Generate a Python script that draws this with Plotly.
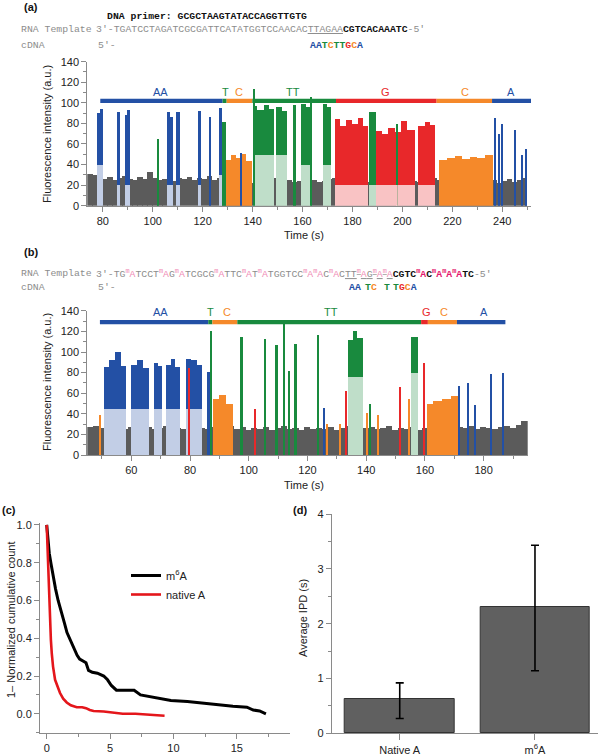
import plotly.graph_objects as go

W, H = 600, 756

# ---------------- colours ----------------
COL = {"A": "#2350a5", "T": "#198a3e", "C": "#f5892a", "G": "#e8282a"}
SEMI = {"A": "rgba(35,80,165,0.28)", "T": "rgba(25,138,62,0.28)",
        "C": "rgba(245,137,42,0.28)", "G": "rgba(232,40,42,0.28)"}
GREY = "#5b5b5b"

# ---------------- panel (a) data ----------------
a_grey_start = 74
a_grey_step = 2
a_grey = [31, 30, 27, 26, 28, 25, 27, 29, 26, 25,
          28, 26, 33, 27, 25, 26, 28, 24, 27, 26,
          28, 25, 27, 26, 29, 25, 27, 24, 26, 25,
          27, 24, 26, 22, 24, 25, 23, 27, 24, 22,
          25, 23, 24, 26, 22, 25, 23, 24, 26, 27,
          23, 22, 24, 25, 21, 24, 23, 22, 25, 24,
          22, 24, 23, 25, 22, 24, 23, 26, 24, 27,
          25, 24, 23, 25, 24, 22, 24, 23, 25, 24,
          23, 25, 22, 24, 26, 23, 25, 27]

a_start = [78.0, 79.0, 86.0, 88.9, 90.0, 102.1, 106.0, 107.2, 109.6, 118.3,
           122.7, 126.7, 128.0, 129.6, 131.5, 133.5, 135.5, 137.5, 135.1, 140.1,
           142.0, 144.5, 146.5, 140.6, 149.5, 151.8, 156.3, 159.7, 161.7, 163.3,
           168.3, 170.0, 173.0, 175.0, 177.5, 180.0, 182.5, 184.5, 186.8, 189.7,
           192.0, 194.5, 197.0, 199.5, 202.0, 197.8, 206.4, 209.0, 211.0, 214.8,
           218.0, 221.0, 224.0, 227.0, 230.0, 233.0, 236.9, 238.5, 240.0, 244.9,
           248.0, 249.6]
a_end = [79.0, 80.2, 87.0, 90.0, 90.9, 102.6, 107.2, 108.3, 111.2, 119.6,
         123.2, 128.0, 129.5, 131.5, 133.5, 135.5, 137.5, 139.8, 135.5, 142.0,
         144.5, 146.5, 148.5, 141.0, 151.8, 154.0, 157.5, 161.7, 163.7, 163.7,
         170.0, 171.7, 175.0, 177.5, 180.0, 182.5, 184.5, 186.4, 189.4, 192.0,
         194.5, 197.0, 199.5, 202.0, 205.0, 198.2, 209.0, 211.0, 213.1, 218.0,
         221.0, 224.0, 227.0, 230.0, 233.0, 236.2, 237.3, 238.9, 240.4, 245.3,
         248.4, 250.0]
a_low = [40, 40, 20, 20, 20, 0, 20, 20, 20, 20,
         0, 30, 0, 0, 0, 0, 0, 0, 0, 50,
         50, 50, 50, 0, 50, 50, 0, 40, 40, 0,
         40, 40, 20, 20, 20, 20, 20, 20, 20, 20,
         20, 20, 20, 20, 20, 20, 20, 20, 20, 0,
         0, 0, 0, 0, 0, 0, 0, 0, 0, 0,
         0, 0]
a_high = [90, 94, 91, 88, 93, 65, 91, 87, 91, 92,
          87, 95, 82, 45, 50, 47, 51, 44, 52, 97,
          93, 98, 94, 114, 96, 92, 98, 99, 96, 106,
          99, 96, 85, 78, 84, 80, 86, 78, 91, 73,
          70, 76, 72, 83, 74, 80, 78, 82, 79, 45,
          47, 49, 46, 48, 47, 50, 86, 70, 80, 74,
          50, 55]
a_base = ["A", "A", "A", "A", "A", "T", "A", "A", "A", "A",
          "A", "A", "T", "C", "C", "C", "C", "C", "A", "T",
          "T", "T", "T", "T", "T", "T", "T", "T", "T", "T",
          "T", "T", "G", "G", "G", "G", "G", "G", "T", "G",
          "G", "G", "G", "G", "G", "T", "G", "G", "G", "C",
          "C", "C", "C", "C", "C", "C", "A", "A", "A", "A",
          "A", "A"]

a_seg_start = [79.0, 128.0, 129.6, 139.9, 173.4, 213.7, 235.9]
a_seg_end = [128.0, 129.6, 139.9, 173.4, 213.7, 235.9, 251.5]
a_seg_base = ["A", "T", "C", "T", "G", "C", "A"]
a_seg_label = ["AA", "T", "C", "TT", "G", "C", "A"]
a_label_x = [103.0, 129.0, 134.7, 156.2, 193.4, 224.9, 243.4]

# ---------------- panel (b) data ----------------
b_grey_start = 45
b_grey_step = 2
b_grey = [27, 28, 26, 29, 27, 26, 25, 27, 26, 28,
          27, 25, 26, 28, 27, 26, 25, 27, 28, 26,
          25, 27, 24, 26, 28, 25, 27, 24, 26, 25,
          27, 24, 26, 28, 25, 26, 24, 27, 25, 26,
          25, 27, 24, 26, 28, 25, 24, 26, 27, 25,
          26, 28, 24, 26, 25, 27, 24, 26, 25, 27,
          24, 26, 25, 27, 26, 28, 25, 27, 26, 25,
          27, 28, 26, 29, 33]

b_start = [49.1, 50.8, 52.5, 54.5, 56.5, 59.9, 62.0, 64.0, 67.7, 69.2,
           71.8, 73.5, 75.0, 78.6, 80.5, 82.5, 79.6, 85.7, 86.8, 88.0,
           90.0, 92.5, 97.1, 102.2, 105.2, 109.0, 111.9, 113.6, 115.6, 123.5,
           125.5, 126.6, 130.9, 132.9, 134.0, 135.5, 137.0, 140.2, 141.2, 144.0,
           151.4, 154.5, 155.3, 159.4, 160.7, 163.0, 166.0, 169.0, 171.5, 174.7,
           176.9, 182.6, 186.4]
b_end = [49.6, 52.5, 54.5, 56.5, 58.4, 62.0, 64.0, 66.0, 69.2, 70.6,
         73.5, 75.0, 76.8, 80.5, 82.5, 84.0, 80.0, 86.8, 87.6, 90.0,
         92.5, 94.8, 98.2, 102.6, 106.1, 110.1, 112.3, 114.0, 116.4, 123.9,
         125.9, 127.0, 131.3, 133.3, 135.5, 137.0, 139.1, 140.6, 141.6, 144.4,
         151.8, 154.9, 157.8, 160.1, 163.0, 166.0, 169.0, 171.5, 171.9, 175.1,
         177.3, 183.0, 186.8]
b_low = [0, 45, 45, 45, 45, 45, 45, 45, 45, 45,
         45, 45, 45, 45, 45, 45, 0, 0, 0, 0,
         0, 0, 0, 0, 0, 0, 0, 0, 0, 0,
         0, 0, 0, 0, 76, 76, 76, 0, 0, 0,
         0, 0, 80, 0, 0, 0, 0, 0, 0, 0,
         0, 0, 0]
b_high = [39, 86, 92, 100, 87, 88, 92, 85, 90, 87,
          88, 93, 86, 93, 92, 88, 85, 81, 121, 55,
          58, 50, 115, 45, 113, 107, 129, 82, 108, 117,
          46, 30, 30, 62, 112, 121, 114, 41, 50, 39,
          66, 55, 115, 90, 50, 53, 55, 57, 67, 70,
          49, 79, 80]
b_base = ["C", "A", "A", "A", "A", "A", "A", "A", "A", "A",
          "A", "A", "A", "A", "A", "A", "G", "A", "T", "C",
          "C", "C", "T", "G", "T", "T", "T", "T", "T", "T",
          "A", "C", "C", "G", "T", "T", "T", "C", "T", "C",
          "G", "C", "T", "G", "C", "C", "C", "C", "A", "A",
          "A", "A", "A"]

b_seg_start = [49.3, 86.2, 87.6, 96.1, 158.7, 161.0, 170.9]
b_seg_end = [86.2, 87.6, 96.1, 158.7, 161.0, 170.9, 187.4]
b_seg_base = ["A", "T", "C", "T", "G", "C", "A"]
b_seg_label = ["AA", "T", "C", "TT", "G", "C", "A"]
b_label_x = [70.0, 87.1, 92.6, 128.0, 160.4, 166.6, 180.0]

# ---------------- panel (c) data ----------------
c_m6a_x = [0, 0.1, 0.2, 0.35, 0.5, 0.7, 0.9, 1.05, 1.2, 1.4, 1.6, 1.8, 2.0, 2.2,
           2.4, 2.6, 2.9, 3.1, 3.3, 3.6, 4.0, 4.5, 4.8, 5.1, 5.5, 6.0, 6.9, 7.4,
           8.2, 9.0, 9.8, 11.1, 12.4, 13.7, 14.7, 15.8, 16.3, 16.8, 17.3]
c_m6a_y = [1.0, 0.92, 0.85, 0.79, 0.73, 0.66, 0.60, 0.56, 0.52, 0.48, 0.43, 0.40,
           0.37, 0.34, 0.31, 0.29, 0.28, 0.27, 0.23, 0.22, 0.215, 0.20, 0.18, 0.15,
           0.125, 0.125, 0.125, 0.10, 0.09, 0.08, 0.07, 0.065, 0.055, 0.045, 0.04,
           0.035, 0.02, 0.015, 0.0]
c_nat_x = [0, 0.05, 0.1, 0.15, 0.2, 0.26, 0.33, 0.4, 0.5, 0.66, 0.85, 1.05, 1.3,
           1.58, 1.9, 2.37, 2.8, 3.1, 3.4, 3.7, 4.5, 5.2, 6.0, 7.0, 8.0, 9.3]
c_nat_y = [1.0, 0.90, 0.80, 0.70, 0.60, 0.48, 0.39, 0.32, 0.25, 0.18, 0.14, 0.11,
           0.08, 0.06, 0.045, 0.035, 0.035, 0.03, 0.02, 0.015, 0.012, 0.005, 0.0,
           0.0, -0.005, -0.01]

# ---------------- panel (d) data ----------------
d_labels = ["Native A", "m<sup>6</sup>A"]
d_values = [0.63, 2.30]
d_err_plus = [0.29, 1.13]
d_err_minus = [0.36, 1.16]

# ---------------- figure ----------------
fig = go.Figure()


def px(x):
    return x / W


def py(y):
    return 1 - y / H


def trace_panel(xa, ya, g0, gstep, grey, bs, be, bl, bh, bb):
    gx = [g0 + gstep * (i + 0.5) for i in range(len(grey))]
    fig.add_trace(go.Bar(x=gx, y=grey, base=0, width=gstep * 1.04,
                         marker=dict(color=GREY, line=dict(width=0)),
                         xaxis=xa, yaxis=ya, showlegend=False, hoverinfo="skip"))
    cen = [(s + e) / 2 for s, e in zip(bs, be)]
    wid = [e - s for s, e in zip(bs, be)]
    idx = [i for i in range(len(bs)) if bl[i] > 0]
    fig.add_trace(go.Bar(x=[cen[i] for i in idx], y=[bl[i] for i in idx], base=0,
                         width=[wid[i] for i in idx],
                         marker=dict(color="white", line=dict(width=0)),
                         xaxis=xa, yaxis=ya, showlegend=False, hoverinfo="skip"))
    fig.add_trace(go.Bar(x=[cen[i] for i in idx], y=[bl[i] for i in idx], base=0,
                         width=[wid[i] for i in idx],
                         marker=dict(color=[SEMI[bb[i]] for i in idx], line=dict(width=0)),
                         xaxis=xa, yaxis=ya, showlegend=False, hoverinfo="skip"))
    fig.add_trace(go.Bar(x=cen, y=[h - l for h, l in zip(bh, bl)], base=bl, width=wid,
                         marker=dict(color=[COL[b] for b in bb], line=dict(width=0)),
                         xaxis=xa, yaxis=ya, showlegend=False, hoverinfo="skip"))


trace_panel("x", "y", a_grey_start, a_grey_step, a_grey, a_start, a_end, a_low, a_high, a_base)
trace_panel("x2", "y2", b_grey_start, b_grey_step, b_grey, b_start, b_end, b_low, b_high, b_base)

annotations = []


def segments(xa, ya, ss, se, sb, sl, lx, level, lab_y):
    for s, e, b in zip(ss, se, sb):
        fig.add_trace(go.Scatter(x=[s, e], y=[level, level], mode="lines",
                                 line=dict(color=COL[b], width=4.3),
                                 xaxis=xa, yaxis=ya, showlegend=False, hoverinfo="skip"))
    for t, x, b in zip(sl, lx, sb):
        annotations.append(dict(text=t, x=x, y=lab_y, xref=xa, yref=ya, showarrow=False,
                                font=dict(family="Liberation Sans", size=11, color=COL[b]),
                                xanchor="center", yanchor="middle"))


segments("x", "y", a_seg_start, a_seg_end, a_seg_base, a_seg_label, a_label_x, 102, 111)
segments("x2", "y2", b_seg_start, b_seg_end, b_seg_base, b_seg_label, b_label_x, 129, 138.5)

# panel c
fig.add_trace(go.Scatter(x=c_m6a_x, y=c_m6a_y, mode="lines", name="m<sup>6</sup>A",
                         line=dict(color="black", width=3), xaxis="x3", yaxis="y3"))
fig.add_trace(go.Scatter(x=c_nat_x, y=c_nat_y, mode="lines", name="native A",
                         line=dict(color="#e4161b", width=2.6), xaxis="x3", yaxis="y3"))

# panel d
fig.add_trace(go.Bar(x=[0, 1], y=d_values, width=0.81,
                     marker=dict(color="#606060", line=dict(color="#333", width=1)),
                     error_y=dict(type="data", symmetric=False, array=d_err_plus,
                                  arrayminus=d_err_minus, color="black", thickness=1.6, width=4),
                     xaxis="x4", yaxis="y4", showlegend=False, hoverinfo="skip"))

# ---------------- axes ----------------
TF = dict(family="Liberation Sans", size=11, color="#222")
LC = "#8a8a8a"


def ax(**kw):
    d = dict(showline=True, linecolor=LC, linewidth=1, ticks="outside", ticklen=5,
             tickcolor=LC, tickwidth=1, tickfont=TF, showgrid=False, zeroline=False,
             automargin=False)
    d.update(kw)
    return d


def mn(dt):
    return dict(ticks="outside", ticklen=3, tickcolor=LC, tickwidth=1, dtick=dt, showgrid=False)


fig.update_layout(
    xaxis=ax(domain=[px(87.3), px(531)], range=[73.8, 251.5], dtick=20, tick0=0,
             minor=mn(10), anchor="y"),
    yaxis=ax(domain=[py(205.7), py(61.7)], range=[0, 140], dtick=20, tick0=0,
             minor=mn(10), anchor="x"),
    xaxis2=ax(domain=[px(87.3), px(527.7)], range=[45, 195], dtick=20, tick0=0,
              minor=mn(10), anchor="y2"),
    yaxis2=ax(domain=[py(455), py(310.8)], range=[0, 140], dtick=20, tick0=0,
              minor=mn(10), anchor="x2"),
    xaxis3=ax(domain=[px(40), px(290)], range=[-0.53, 19.2], dtick=5, tick0=0,
              minor=mn(2.5), anchor="y3"),
    yaxis3=ax(domain=[py(732.7), py(523)], range=[-0.1, 1.01], dtick=0.2, tick0=0,
              tickformat=".1f", minor=mn(0.1), anchor="x3"),
    xaxis4=ax(domain=[px(331.7), px(598)], range=[-0.503, 1.466], tickvals=[0, 1],
              ticktext=d_labels, ticklen=6, anchor="y4"),
    yaxis4=ax(domain=[py(733.3), py(514)], range=[0, 4], dtick=1, tick0=0,
              minor=mn(0.5), anchor="x4"),
)

# ---------------- text ----------------
MONO = "Liberation Mono"
SANS = "Liberation Sans"
LG = "#8c8c8c"
PINK = "#f08cb6"
MAG = "#e4186e"


def txt(text, x, y, size=9.8, family=MONO, color=LG, angle=0, xanchor="left"):
    annotations.append(dict(text=text, x=px(x), y=py(y), xref="paper", yref="paper",
                            showarrow=False, xanchor=xanchor, yanchor="middle",
                            textangle=angle, font=dict(family=family, size=size, color=color)))


def sp(s, c):
    return "<span style='color:%s'>%s</span>" % (c, s)


def mA(c):
    return sp("<sup>m</sup>A", c)


template_a = ("3′-TGATCCTAGATCGCGATTCATATGGTCCAACAC<u>TTAGAA</u>"
              "<b>" + sp("CGTCACAAATC", "#111") + "</b>-5′")
cdna_a = ("<b>" + sp("AA", COL["A"]) + sp("T", COL["T"]) + sp("C", COL["C"]) +
          sp("TT", COL["T"]) + sp("G", COL["G"]) + sp("C", COL["C"]) + sp("A", COL["A"]) + "</b>")

template_b = ("3′-TG" + mA(PINK) + "TCCT" + mA(PINK) + "G" + mA(PINK) + "TCGCG" + mA(PINK) +
              "TTC" + mA(PINK) + "T" + mA(PINK) + "TGGTCC" + mA(PINK) + mA(PINK) + "C" +
              mA(PINK) + "C<u>TT</u><u>" + mA(PINK) + "G</u><u>" + mA(PINK) + "</u><u>" +
              mA(PINK) + "</u><b>" + sp("CGTC", "#111") + mA(MAG) + sp("C", "#111") +
              mA(MAG) + mA(MAG) + mA(MAG) + sp("TC", "#111") + "</b>-5′")

txt("<b>(a)</b>", 22, 7, size=11, family=SANS, color="#111")
txt("<b>DNA primer: GCGCTAAGTATACCAGGTTGTG</b>", 105, 17, color="#111")
txt("RNA Template", 19, 30)
txt(template_a, 94, 30)
txt("cDNA", 19, 45)
txt("5′-", 96, 45)
txt(cdna_a, 308, 45)

txt("<b>(b)</b>", 22, 252, size=11, family=SANS, color="#111")
txt("RNA Template", 19, 273)
txt(template_b, 94, 273)
txt("cDNA", 19, 287.5)
txt("5′-", 96, 287.5)
txt("<b>" + sp("AA", COL["A"]) + "</b>", 347, 287.5)
txt("<b>" + sp("T", COL["T"]) + sp("C", COL["C"]) + "</b>", 363, 287.5)
txt("<b>" + sp("T", COL["T"]) + "</b>", 382, 287.5)
txt("<b>" + sp("T", COL["T"]) + sp("G", COL["G"]) + sp("C", COL["C"]) + sp("A", COL["A"]) + "</b>",
    391, 287.5)

txt("<b>(c)</b>", 0, 510, size=11, family=SANS, color="#111")
txt("<b>(d)</b>", 291, 510, size=11, family=SANS, color="#111")

# axis titles
txt("Fluorescence intensity (a.u.)", 47, 134, size=11, family=SANS, color="#222", angle=-90,
    xanchor="center")
txt("Time (s)", 303.5, 235, size=11, family=SANS, color="#222", xanchor="center")
txt("Fluorescence intensity (a.u.)", 47, 382, size=11, family=SANS, color="#222", angle=-90,
    xanchor="center")
txt("Time (s)", 303.5, 485, size=11, family=SANS, color="#222", xanchor="center")
txt("1– Normalized cumulative count", 11, 620, size=11, family=SANS, color="#222", angle=-90,
    xanchor="center")
txt("Average IPD (s)", 303, 618, size=11, family=SANS, color="#222", angle=-90,
    xanchor="center")

fig.update_layout(
    annotations=annotations,
    width=W, height=H, autosize=False,
    margin=dict(l=0, r=0, t=0, b=0),
    template="none",
    paper_bgcolor="white", plot_bgcolor="white",
    barmode="overlay", bargap=0,
    font=dict(family=SANS, size=11, color="#222"),
    showlegend=True,
    legend=dict(x=px(126), y=py(561), xanchor="left", yanchor="top",
                bgcolor="rgba(0,0,0,0)", font=dict(family=SANS, size=11, color="#222"),
                itemwidth=30, tracegroupgap=0),
)

fig.write_html("out.html", config={"displayModeBar": False},
               post_script="document.body.style.margin='0px';")
